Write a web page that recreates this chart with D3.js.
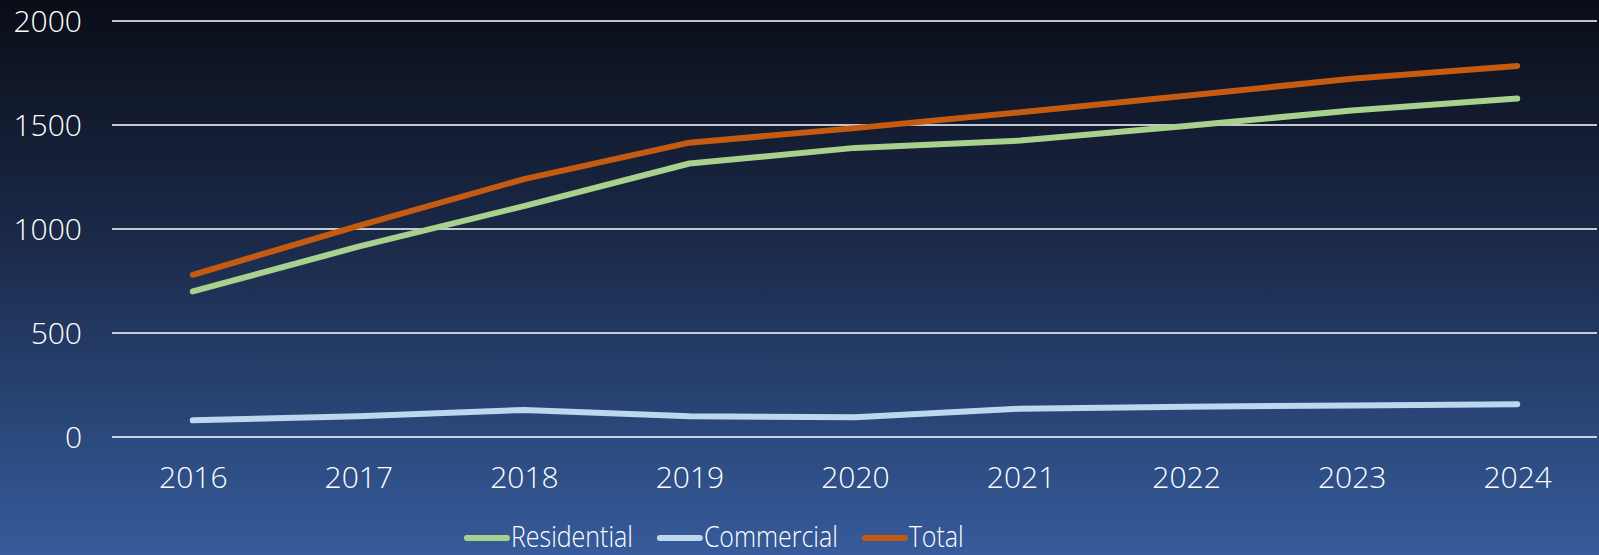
<!DOCTYPE html>
<html>
<head>
<meta charset="utf-8">
<script src="https://cdn.jsdelivr.net/npm/d3@7"></script>
<style>
  html, body { margin: 0; padding: 0; background: #0a0d17; overflow: hidden; }
  svg { display: block; }
  text { font-family: "Open Sans", Lato, sans-serif; fill: #ffffff; font-weight: 300; }
</style>
</head>
<body>
<script>
const years = ["2016","2017","2018","2019","2020","2021","2022","2023","2024"];
const residential = [700, 915, 1110, 1315, 1390, 1425, 1495, 1570, 1627];
const commercial = [80, 100, 130, 100, 95, 136, 146, 152, 157];
const total = [780, 1015, 1240, 1415, 1485, 1561, 1641, 1722, 1784];
const yTicks = [0, 500, 1000, 1500, 2000];
const seriesNames = ["Residential", "Commercial", "Total"];
const seriesColors = ["#a9d18e", "#bdd7ee", "#c55a11"];

const W = 1599, H = 555;
const FONT = "'Open Sans', Lato, sans-serif";
const svg = d3.select("body").append("svg").attr("width", W).attr("height", H);

const defs = svg.append("defs");
const grad = defs.append("linearGradient").attr("id", "bg").attr("x1", 0).attr("y1", 0).attr("x2", 0).attr("y2", 1);
grad.append("stop").attr("offset", "0%").attr("stop-color", "#0a0d17");
grad.append("stop").attr("offset", "45%").attr("stop-color", "#1c2b4b");
grad.append("stop").attr("offset", "80%").attr("stop-color", "#2b4a7e");
grad.append("stop").attr("offset", "100%").attr("stop-color", "#375b9b");
svg.append("rect").attr("width", W).attr("height", H).attr("fill", "url(#bg)");

const x = d3.scalePoint().domain(years).range([110, 1600]).padding(0.5);
const y = d3.scaleLinear().domain([0, 2000]).range([437, 21]);

// gridlines
svg.append("g").selectAll("line").data(yTicks).join("line")
  .attr("x1", 112).attr("x2", 1597)
  .attr("y1", d => y(d)).attr("y2", d => y(d))
  .attr("stroke", "#ffffff").attr("stroke-width", 1.6);

// y axis labels
const yAxis = d3.axisLeft(y).tickValues(yTicks).tickSize(0).tickPadding(0).tickFormat(d3.format("d"));
const gy = svg.append("g").attr("transform", "translate(82,0)").call(yAxis);
gy.select(".domain").remove();
gy.selectAll("text").attr("font-size", 30).attr("fill", "#fff").attr("dy", "0.36em")
  .style("font-family", FONT).style("font-weight", 300);

// x axis labels
const xAxis = d3.axisBottom(x).tickSize(0).tickPadding(0);
const gx = svg.append("g").attr("transform", "translate(0,466)").call(xAxis);
gx.select(".domain").remove();
gx.selectAll("text").attr("font-size", 30).attr("fill", "#fff").attr("dy", "0.72em")
  .style("font-family", FONT).style("font-weight", 300);

// lines
const seriesData = [residential, commercial, total];
const line = d3.line().x((d, i) => x(years[i])).y(d => y(d)).curve(d3.curveLinear);
svg.append("g").selectAll("path").data(seriesData).join("path")
  .attr("d", d => line(d))
  .attr("fill", "none")
  .attr("stroke", (d, i) => seriesColors[i])
  .attr("stroke-width", 6)
  .attr("stroke-linecap", "round")
  .attr("stroke-linejoin", "round");

// legend
const legend = svg.append("g");
let lx = 467;
const ly = 538;
seriesNames.forEach((name, i) => {
  legend.append("line").attr("x1", lx).attr("x2", lx + 40).attr("y1", ly).attr("y2", ly)
    .attr("stroke", seriesColors[i]).attr("stroke-width", 6).attr("stroke-linecap", "round");
  const t = legend.append("text").attr("x", lx + 44).attr("y", 547)
    .attr("font-size", 29).text(name);
  const natural = t.node().getComputedTextLength();
  const w = natural * 0.86;
  t.attr("textLength", w).attr("lengthAdjust", "spacingAndGlyphs");
  lx = lx + 44 + w + 27;
});
</script>
</body>
</html>
